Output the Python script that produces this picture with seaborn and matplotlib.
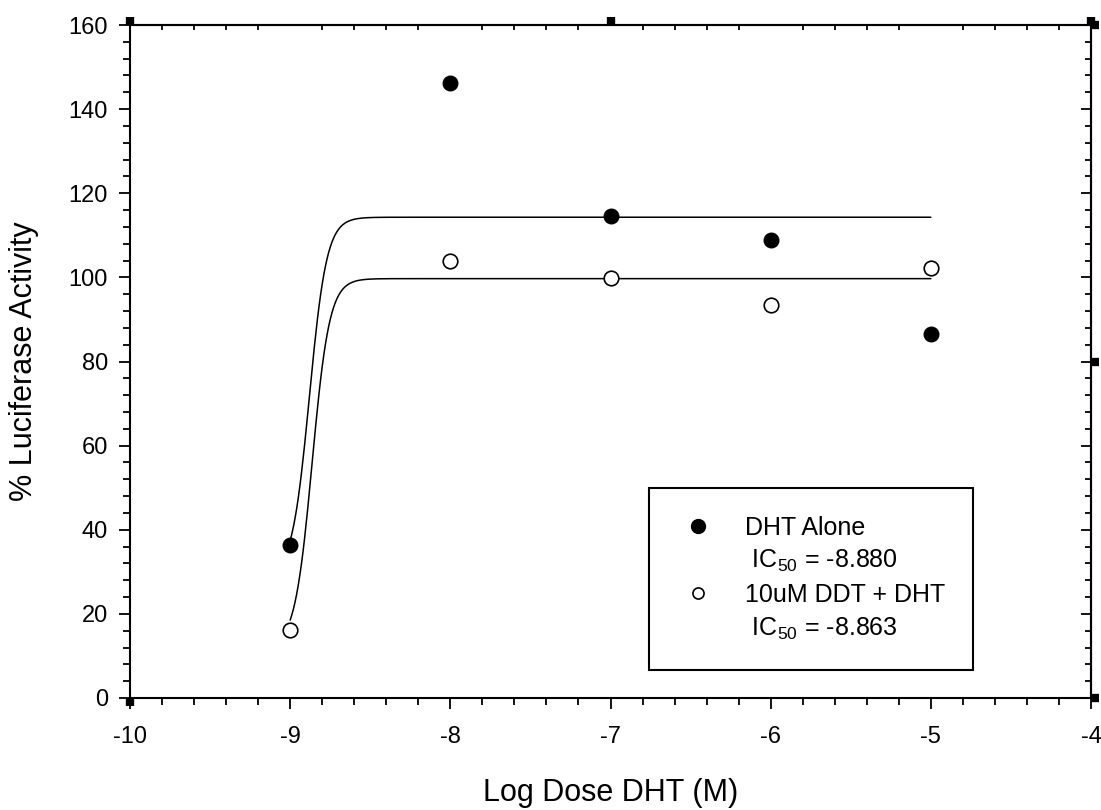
import numpy as np
import matplotlib
matplotlib.use("Agg")
import matplotlib.pyplot as plt
from matplotlib.lines import Line2D
from matplotlib.ticker import MultipleLocator, FixedLocator, NullFormatter
import seaborn as sns

# data
log_dose = [-9, -8, -7, -6, -5]
dht_alone = [36.3, 146.3, 114.5, 108.8, 86.6]
ddt_dht = [16.2, 103.8, 99.8, 93.5, 102.2]

# fitted sigmoid parameters (bottom, top, logIC50, hill slope)
fit_dht = (29.0, 114.3, -8.880, 8.0)
fit_ddt = (12.0, 99.7, -8.863, 8.0)
curve_range = (-9, -5)

labels = ["DHT Alone", " IC$_{50}$ = -8.880", "10uM DDT + DHT", " IC$_{50}$ = -8.863"]


def sigmoid(x, bottom, top, logic50, hill):
    return bottom + (top - bottom) / (1 + 10 ** ((logic50 - x) * hill))


sns.set_style("ticks")
plt.rcParams['font.family'] = ['Liberation Sans', 'DejaVu Sans']
plt.rcParams['mathtext.fontset'] = 'custom'
plt.rcParams['mathtext.rm'] = 'Liberation Sans'
plt.rcParams['mathtext.it'] = 'Liberation Sans'
plt.rcParams['axes.unicode_minus'] = False
plt.rcParams['text.color'] = 'black'
plt.rcParams['axes.labelcolor'] = 'black'

fig = plt.figure(figsize=(11.01, 8.10), dpi=100)
ax = fig.add_axes([130 / 1101, 112 / 810, 961 / 1101, 673 / 810])

# fitted curves
xs = np.linspace(curve_range[0], curve_range[1], 400)
sns.lineplot(x=xs, y=sigmoid(xs, *fit_dht), color='black', lw=1.1, ax=ax)
sns.lineplot(x=xs, y=sigmoid(xs, *fit_ddt), color='black', lw=1.1, ax=ax)

# points
sns.scatterplot(x=log_dose, y=dht_alone, color='black', edgecolor='black',
                s=110, linewidth=1.0, ax=ax, zorder=3)
sns.scatterplot(x=log_dose, y=ddt_dht, color='white', edgecolor='black',
                s=110, linewidth=1.2, ax=ax, zorder=3)

ax.set_xlim(-10, -4)
ax.set_ylim(0, 160)
for s in ax.spines.values():
    s.set_visible(True)
    s.set_linewidth(1.5)
    s.set_color('black')

ax.xaxis.set_major_locator(MultipleLocator(1))
ax.xaxis.set_minor_locator(MultipleLocator(0.2))
ax.yaxis.set_major_locator(MultipleLocator(20))
ax.yaxis.set_minor_locator(MultipleLocator(4))
ax.tick_params(which='major', direction='out', length=8, width=1.3, labelsize=17,
               colors='black', top=False, right=False)
ax.tick_params(which='minor', direction='out', length=5, width=1.3,
               colors='black', top=False, right=False)
ax.tick_params(axis='x', which='major', pad=12)
ax.tick_params(axis='y', which='major', pad=8)

ax.set_xlabel("Log Dose DHT (M)", fontsize=22, labelpad=22)
ax.set_ylabel("% Luciferase Activity", fontsize=22, labelpad=21)

# top: inward minor ticks, none at integers
top = ax.secondary_xaxis('top')
top.xaxis.set_major_locator(FixedLocator([-10, -7, -4]))
top.xaxis.set_minor_locator(FixedLocator(
    [v for v in np.round(np.arange(-10, -4.001, 0.2), 1) if abs(v - round(v)) > 1e-6]))
top.xaxis.set_major_formatter(NullFormatter())
top.tick_params(which='major', direction='out', length=6, width=6, colors='black')
top.tick_params(which='minor', direction='in', length=3.5, width=1.3, colors='black')
top.spines['top'].set_linewidth(1.5)

# right: inward ticks every 20 and every 4
right = ax.secondary_yaxis('right')
right.yaxis.set_major_locator(MultipleLocator(20))
right.yaxis.set_minor_locator(MultipleLocator(4))
right.yaxis.set_major_formatter(NullFormatter())
right.tick_params(which='major', direction='in', length=7, width=1.3, colors='black')
right.tick_params(which='minor', direction='in', length=4.5, width=1.3, colors='black')
right.spines['right'].set_linewidth(1.5)

# square marks on the frame
sq_right = ax.secondary_yaxis('right')
sq_right.yaxis.set_major_locator(FixedLocator([0, 80, 160]))
sq_right.yaxis.set_minor_locator(FixedLocator([]))
sq_right.yaxis.set_major_formatter(NullFormatter())
sq_right.tick_params(which='major', direction='out', length=6, width=6, colors='black')
sq_right.spines['right'].set_visible(False)

sq_bottom = ax.secondary_xaxis('bottom')
sq_bottom.xaxis.set_major_locator(FixedLocator([-10]))
sq_bottom.xaxis.set_minor_locator(FixedLocator([]))
sq_bottom.xaxis.set_major_formatter(NullFormatter())
sq_bottom.tick_params(which='major', direction='out', length=6, width=6, colors='black')
sq_bottom.spines['bottom'].set_visible(False)

# legend
handles = [
    Line2D([], [], ls='none', marker='o', ms=10, mfc='black', mec='black'),
    Line2D([], [], ls='none', marker='none'),
    Line2D([], [], ls='none', marker='o', ms=8, mfc='white', mec='black', mew=1.2),
    Line2D([], [], ls='none', marker='none'),
]
leg = ax.legend(handles, labels, loc='upper left', bbox_to_anchor=(0.540, 0.312),
                fontsize=18, frameon=True, fancybox=False, framealpha=1,
                edgecolor='black', borderpad=1.1, handlelength=1.75,
                handletextpad=1.0, labelspacing=0.35, borderaxespad=0)
leg.get_frame().set_linewidth(1.5)

fig.savefig("out.png", dpi=100)
